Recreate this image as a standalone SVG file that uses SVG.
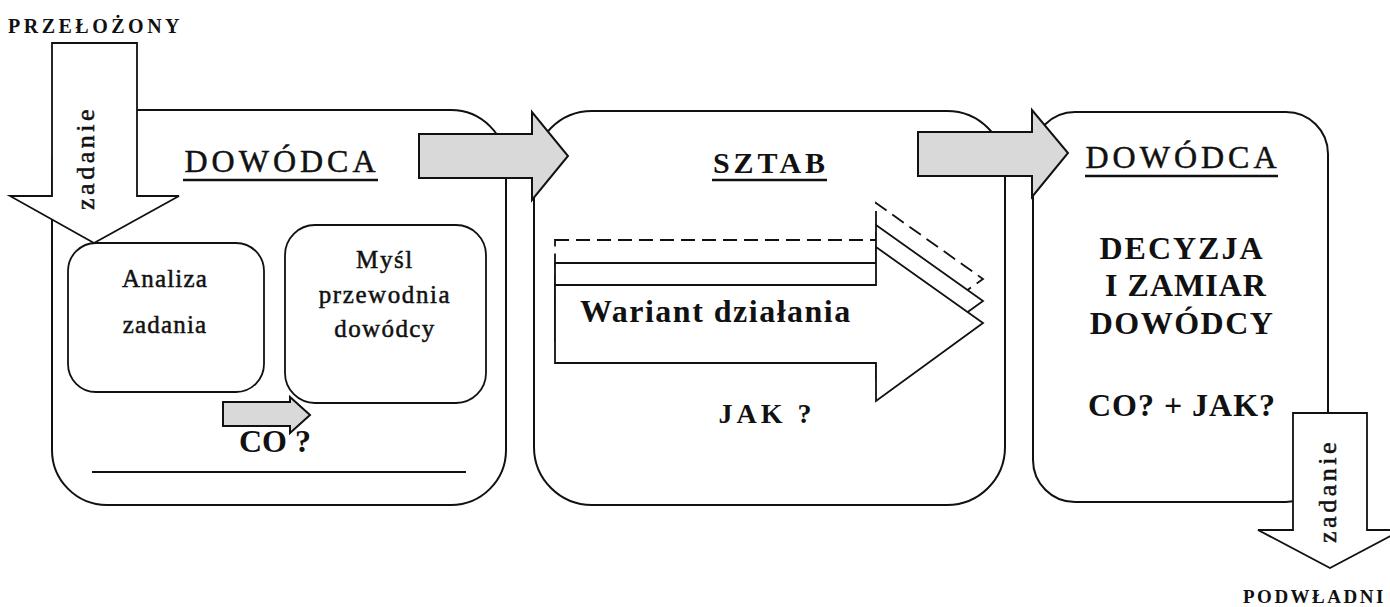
<svg xmlns="http://www.w3.org/2000/svg" width="1390" height="607" viewBox="0 0 1390 607">
<style>
.box{fill:#fff;stroke:#111;stroke-width:2}
.sub{fill:#fff;stroke:#111;stroke-width:1.8}
.garrow{fill:#d9d9d9;stroke:#111;stroke-width:2;stroke-linejoin:miter}
.warrow{fill:#fff;stroke:#111;stroke-width:1.8;stroke-linejoin:miter}
.dash{fill:#fff;stroke:#111;stroke-width:1.8;stroke-dasharray:14 7}
.t{font-family:"Liberation Serif","Times New Roman",serif;fill:#111}
.r{stroke:#111;stroke-width:0.5}
.b{font-weight:bold}
.ul{stroke:#111;stroke-width:2.5}
</style>
<rect width="1390" height="607" fill="#fff"/>

<g id="box-dowodca1">
  <rect class="box" x="52" y="110" width="454" height="395" rx="55"/>
  <line x1="92" y1="472" x2="466" y2="472" stroke="#111" stroke-width="1.8"/>
  <text class="t r" x="282" y="172" font-size="32" letter-spacing="4" text-anchor="middle">DOWÓDCA</text>
  <line class="ul" x1="183" y1="180" x2="378" y2="180"/>
</g>
<g id="box-analiza">
  <rect class="sub" x="68" y="243" width="196" height="149" rx="28"/>
  <text class="t r" x="165" y="287" font-size="25" letter-spacing="1.2" text-anchor="middle">Analiza</text>
  <text class="t r" x="165" y="333" font-size="25" letter-spacing="1.2" text-anchor="middle">zadania</text>
</g>
<g id="box-mysl">
  <rect class="sub" x="285" y="225" width="201" height="178" rx="30"/>
  <text class="t r" x="385" y="268" font-size="25" letter-spacing="1.6" text-anchor="middle">Myśl</text>
  <text class="t r" x="385" y="303" font-size="25" letter-spacing="1.6" text-anchor="middle">przewodnia</text>
  <text class="t r" x="385" y="337" font-size="25" letter-spacing="1.4" text-anchor="middle">dowódcy</text>
</g>
<g id="box-sztab">
  <rect class="box" x="534" y="111" width="471" height="394" rx="58"/>
  <text class="t b" x="771" y="173" font-size="30" letter-spacing="4" text-anchor="middle">SZTAB</text>
  <line class="ul" x1="712" y1="180" x2="827" y2="180"/>
</g>
<g id="box-dowodca2">
  <rect class="box" x="1033" y="112" width="295" height="390" rx="42"/>
  <text class="t r" x="1183" y="168" font-size="32" letter-spacing="4" text-anchor="middle">DOWÓDCA</text>
  <line class="ul" x1="1085" y1="176" x2="1278" y2="176"/>
  <text class="t b" x="1182" y="259" font-size="32" letter-spacing="2" text-anchor="middle">DECYZJA</text>
  <text class="t b" x="1186" y="296" font-size="32" letter-spacing="1" text-anchor="middle">I ZAMIAR</text>
  <text class="t b" x="1182" y="334" font-size="32" letter-spacing="1.5" text-anchor="middle">DOWÓDCY</text>
  <text class="t b" x="1182" y="416" font-size="32" letter-spacing="1" text-anchor="middle">CO? + JAK?</text>
</g>

<g id="variant">
  <polygon class="dash" points="555,240 876,240 876,203 983,279 876,355 876,318 555,318"/>
  <polygon class="warrow" points="555,263 876,263 876,225 983,301 876,378 876,341 555,341"/>
  <polygon class="warrow" points="555,285 876,285 876,247 983,323 876,401 876,363 555,363"/>
  <text class="t b" x="580" y="322" font-size="32" letter-spacing="1.5">Wariant działania</text>
  <text class="t b" x="767" y="423" font-size="28" letter-spacing="4" text-anchor="middle">JAK ?</text>
</g>

<g id="connectors">
  <polygon class="warrow" points="52,43 137,43 137,196 179,196 94,243 10,196 52,196"/>
  <text class="t r" transform="translate(94,158) rotate(-90)" font-size="26" letter-spacing="3.5" text-anchor="middle">zadanie</text>
  <polygon class="garrow" points="419,134 532,134 532,112 568,156 532,200 532,178 419,178"/>
  <polygon class="garrow" points="918,132 1032,132 1032,110 1068,153 1032,197 1032,176 918,176"/>
  <polygon class="garrow" points="223,402 290,402 290,397 310,415 290,433 290,426 223,426"/>
  <polygon class="warrow" points="1293,413 1367,413 1367,530 1402,530 1330,568 1258,530 1293,530"/>
  <text class="t r" transform="translate(1336,491) rotate(-90)" font-size="26" letter-spacing="3.5" text-anchor="middle">zadanie</text>
</g>

<g id="labels">
  <text class="t b" x="8" y="33" font-size="20" letter-spacing="3.5">PRZEŁOŻONY</text>
  <text class="t b" x="239" y="452" font-size="32">CO ?</text>
  <text class="t b" x="1243" y="603" font-size="19" letter-spacing="2.5">PODWŁADNI</text>
</g>
</svg>
